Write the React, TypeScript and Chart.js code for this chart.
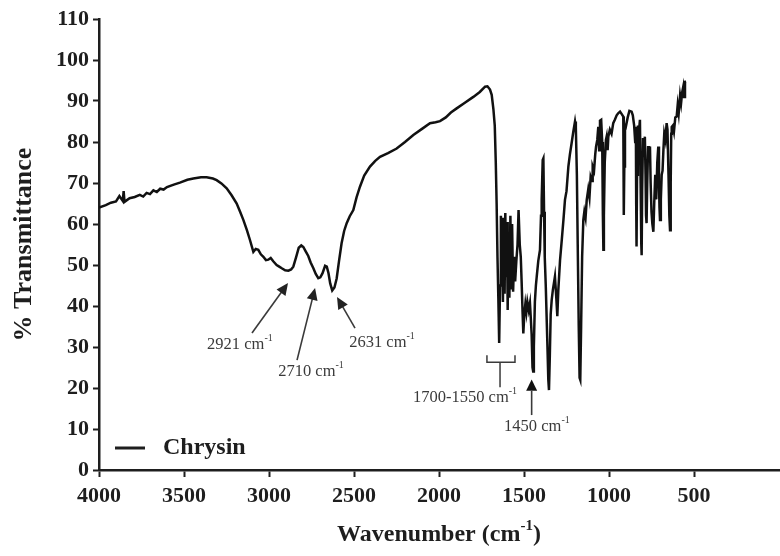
import React, { useEffect, useRef } from 'react';
import { Chart, registerables } from 'chart.js';

Chart.register(...registerables);

// ---- Data ----
const seriesLabel = 'Chrysin';

const wavenumbers = [
  4000, 3960, 3930, 3900, 3880, 3860, 3855, 3850, 3820, 3790, 3760, 3740, 3720, 3700, 3680, 3660, 3640, 3620, 3600,
  3560, 3524, 3480, 3445, 3400, 3367, 3330, 3308, 3280, 3249, 3220, 3190, 3170, 3151, 3130, 3112, 3092, 3078, 3063,
  3048, 3033, 3018, 3004, 2990, 2975, 2955, 2940, 2925, 2905, 2886, 2870, 2857, 2840, 2825, 2810, 2798, 2785, 2769,
  2755, 2739, 2725, 2710, 2698, 2685, 2670, 2660, 2650, 2640, 2628, 2615, 2602, 2588, 2573, 2558, 2543, 2525, 2504,
  2485, 2465, 2440, 2406, 2375, 2347, 2300, 2249, 2200, 2151, 2100, 2053, 2020, 1994, 1960, 1930, 1896, 1850, 1798,
  1760, 1729, 1715, 1700, 1690, 1680, 1672, 1666, 1661, 1656, 1651, 1646, 1641, 1636, 1632, 1628, 1624, 1619, 1614,
  1610, 1605, 1600, 1596, 1591, 1586, 1580, 1575, 1570, 1564, 1558, 1552, 1545, 1538, 1532, 1525, 1519, 1514, 1508,
  1504, 1498, 1492, 1486, 1480, 1472, 1465, 1460, 1455, 1450, 1446, 1442, 1436, 1430, 1425, 1416, 1406, 1400, 1396,
  1390, 1386, 1382, 1378, 1372, 1366, 1362, 1357, 1353, 1348, 1343, 1337, 1330, 1318, 1310, 1304, 1298, 1288, 1278,
  1268, 1259, 1250, 1239, 1230, 1220, 1210, 1200, 1195, 1189, 1184, 1178, 1173, 1169, 1164, 1158, 1151, 1145, 1138,
  1131, 1122, 1115, 1108, 1100, 1096, 1088, 1081, 1076, 1069, 1063, 1058, 1053, 1046, 1040, 1036, 1033, 1030, 1025,
  1018, 1014, 1008, 1004, 995, 985, 975, 965, 955, 946, 935, 925, 916, 914, 912, 910, 906, 901, 890, 880, 867, 860,
  852, 846, 842, 840, 838, 835, 830, 825, 818, 814, 810, 808, 805, 800, 795, 789, 785, 782, 779, 775, 770, 765, 759,
  755, 750, 745, 739, 734, 728, 722, 716, 710, 706, 703, 700, 695, 690, 685, 680, 675, 668, 661, 656, 650, 645, 641,
  637, 634, 631, 625, 618, 610, 602, 596, 590, 582, 576, 570, 563, 558, 553, 547,
];

const transmittance = [
  64.0, 64.6, 65.2, 65.5, 66.8, 65.6, 68.0, 65.4, 66.3, 66.6, 67.1, 66.7, 67.6, 67.3, 68.2, 67.8, 68.6, 68.4, 69.0,
  69.6, 70.1, 70.8, 71.1, 71.4, 71.4, 71.1, 70.7, 69.9, 68.7, 67.0, 65.0, 63.0, 61.0, 58.5, 56.1, 53.2, 53.9, 53.7,
  52.6, 52.0, 51.2, 51.3, 51.7, 50.9, 50.0, 49.6, 49.2, 48.7, 48.6, 48.9, 49.6, 52.0, 54.2, 54.8, 54.4, 53.4, 52.2,
  50.6, 49.2, 47.8, 46.8, 47.0, 48.0, 49.8, 49.6, 48.0, 45.5, 43.8, 44.5, 46.7, 51.0, 55.3, 58.3, 60.2, 61.9, 63.4,
  66.5, 69.1, 71.8, 74.0, 75.4, 76.4, 77.3, 78.4, 80.0, 81.7, 83.2, 84.6, 84.8, 85.1, 86.0, 87.2, 88.2, 89.5, 91.0,
  92.2, 93.5, 93.6, 92.8, 91.5, 88.0, 84.0, 75.0, 65.0, 52.0, 42.0, 31.0, 45.0, 62.0, 48.0, 61.5, 41.0, 60.0, 43.0,
  62.7, 47.0, 60.5, 39.0, 58.0, 42.0, 62.0, 44.0, 60.0, 43.5, 52.0, 46.0, 51.0, 55.0, 63.4, 55.0, 52.0, 46.0, 38.0,
  33.3, 38.0, 40.5, 38.5, 41.0, 39.0, 40.7, 37.0, 33.0, 25.0, 24.0, 30.0, 41.0, 45.0, 47.2, 51.0, 53.7, 62.0, 66.0,
  75.6, 76.0, 63.0, 52.0, 45.0, 36.0, 30.0, 22.0, 19.5, 28.0, 38.0, 41.5, 44.0, 47.2, 42.0, 37.5, 44.0, 51.2, 56.0,
  61.0, 65.9, 68.0, 74.0, 77.0, 79.7, 82.5, 85.0, 83.5, 72.0, 55.0, 35.0, 22.5, 22.0, 35.0, 52.0, 61.0, 63.0, 61.5,
  65.9, 68.5, 66.5, 71.5, 70.5, 74.0, 73.0, 77.0, 78.9, 80.5, 83.7, 78.0, 85.2, 85.4, 80.0, 62.0, 53.7, 62.0, 75.0,
  80.5, 81.3, 78.0, 81.3, 83.0, 82.0, 84.6, 85.5, 86.5, 87.0, 87.4, 86.8, 86.2, 75.0, 62.2, 74.0, 84.0, 83.7, 86.0, 87.6, 87.4, 86.5,
  84.0, 80.0, 83.7, 65.0, 54.5, 72.0, 84.0, 82.0, 85.4, 70.0, 55.0, 52.4, 68.0, 81.0, 78.0, 81.3, 72.0, 62.0, 60.2, 70.0, 79.0, 76.0, 78.9,
  70.0, 63.0, 60.0, 58.1, 65.0, 72.0, 66.0, 75.0, 78.9, 70.0, 64.0, 61.0, 66.0, 72.0, 73.0, 78.0, 82.0, 80.5, 84.6, 83.0, 72.0, 62.0, 58.5,
  70.0, 82.0, 83.7, 84.0, 82.5, 86.0, 86.2, 89.0, 87.0, 91.3, 89.5, 92.0, 93.5, 91.0, 94.7, 94.8,
];

const xTickValues = [4000, 3500, 3000, 2500, 2000, 1500, 1000, 500];
const yMin = 0;
const yMax = 110;
const xMin = 0;
const xMax = 4000;

// Peak annotations (values in data units)
const arrowLabels = ['2921', '2710', '2631'];
const arrowTipWn = [2888, 2729, 2600];
const arrowTipT = [45.6, 44.4, 42.2];
const arrowTailWn = [3100, 2835, 2494];
const arrowTailT = [33.4, 26.8, 34.6];
const arrowTextWn = [3171, 2753, 2335];
const arrowTextT = [30.5, 23.9, 31.0];

const bandLabel = '1700-1550';
const bandFromWn = 1718;
const bandToWn = 1553;
const bandT = 26.3;
const bandCapT = 28.0;
const bandStemWn = 1641;
const bandStemEndT = 20.2;
const bandTextWn = 1847;
const bandTextT = 17.6;

const peakLabel = '1450';
const peakTipWn = 1455;
const peakTipT = 22.1;
const peakBaseT = 19.3;
const peakStemEndT = 13.4;
const peakTextWn = 1424;
const peakTextT = 10.6;

const FONT = '"Liberation Serif", "Times New Roman", serif';
const INK = '#1e1e1e';
const NOTE = '#3a3a3a';

type Part = { t: string; sup?: boolean };

function drawParts(ctx: CanvasRenderingContext2D, parts: Part[], cx: number, cy: number, size: number, weight: string, color: string) {
  const supSize = Math.round(size * 0.62);
  const widths = parts.map((p) => {
    ctx.font = `${weight} ${p.sup ? supSize : size}px ${FONT}`;
    return ctx.measureText(p.t).width;
  });
  const total = widths.reduce((a, b) => a + b, 0);
  let x = cx - total / 2;
  ctx.fillStyle = color;
  ctx.textAlign = 'left';
  ctx.textBaseline = 'middle';
  parts.forEach((p, i) => {
    ctx.font = `${weight} ${p.sup ? supSize : size}px ${FONT}`;
    ctx.fillText(p.t, x, p.sup ? cy - size * 0.38 : cy);
    x += widths[i];
  });
}

function arrowHead(ctx: CanvasRenderingContext2D, tx: number, ty: number, fx: number, fy: number, len: number, half: number) {
  const ang = Math.atan2(ty - fy, tx - fx);
  const bx = tx - Math.cos(ang) * len;
  const by = ty - Math.sin(ang) * len;
  ctx.beginPath();
  ctx.moveTo(tx, ty);
  ctx.lineTo(bx + Math.sin(ang) * half, by - Math.cos(ang) * half);
  ctx.lineTo(bx - Math.sin(ang) * half, by + Math.cos(ang) * half);
  ctx.closePath();
  ctx.fill();
}

const overlayPlugin = {
  id: 'overlay',
  afterDraw(chart: any) {
    const { ctx, chartArea } = chart;
    const xs = chart.scales.x;
    const ys = chart.scales.y;
    const px = (v: number) => xs.getPixelForValue(v);
    const py = (v: number) => ys.getPixelForValue(v);
    ctx.save();

    // arrows to peaks
    ctx.strokeStyle = NOTE;
    ctx.fillStyle = NOTE;
    ctx.lineWidth = 1.6;
    arrowLabels.forEach((lab, i) => {
      const tx = px(arrowTipWn[i]);
      const ty = py(arrowTipT[i]);
      const fx = px(arrowTailWn[i]);
      const fy = py(arrowTailT[i]);
      const ang = Math.atan2(ty - fy, tx - fx);
      ctx.beginPath();
      ctx.moveTo(fx, fy);
      ctx.lineTo(tx - Math.cos(ang) * 8, ty - Math.sin(ang) * 8);
      ctx.stroke();
      ctx.fillStyle = '#222';
      arrowHead(ctx, tx, ty, fx, fy, 12, 5.5);
      drawParts(ctx, [{ t: lab + ' cm' }, { t: '-1', sup: true }], px(arrowTextWn[i]), py(arrowTextT[i]), 16.5, 'normal', NOTE);
    });

    // band bracket
    ctx.strokeStyle = NOTE;
    ctx.lineWidth = 1.5;
    ctx.beginPath();
    ctx.moveTo(px(bandFromWn), py(bandCapT));
    ctx.lineTo(px(bandFromWn), py(bandT));
    ctx.lineTo(px(bandToWn), py(bandT));
    ctx.lineTo(px(bandToWn), py(bandCapT));
    ctx.moveTo(px(bandStemWn), py(bandT));
    ctx.lineTo(px(bandStemWn), py(bandStemEndT));
    ctx.stroke();
    drawParts(ctx, [{ t: bandLabel + ' cm' }, { t: '-1', sup: true }], px(bandTextWn), py(bandTextT), 16.5, 'normal', NOTE);

    // 1450 arrow
    ctx.fillStyle = '#111';
    const tipX = px(peakTipWn);
    ctx.beginPath();
    ctx.moveTo(tipX, py(peakTipT));
    ctx.lineTo(tipX - 5.5, py(peakBaseT));
    ctx.lineTo(tipX + 5.5, py(peakBaseT));
    ctx.closePath();
    ctx.fill();
    ctx.strokeStyle = NOTE;
    ctx.lineWidth = 1.6;
    ctx.beginPath();
    ctx.moveTo(tipX, py(peakBaseT));
    ctx.lineTo(tipX, py(peakStemEndT));
    ctx.stroke();
    drawParts(ctx, [{ t: peakLabel + ' cm' }, { t: '-1', sup: true }], px(peakTextWn), py(peakTextT), 16.5, 'normal', NOTE);

    // legend
    const ly = chartArea.bottom - 22;
    ctx.strokeStyle = INK;
    ctx.lineWidth = 3;
    ctx.beginPath();
    ctx.moveTo(chartArea.left + 16, ly);
    ctx.lineTo(chartArea.left + 46, ly);
    ctx.stroke();
    ctx.fillStyle = INK;
    ctx.font = `bold 24px ${FONT}`;
    ctx.textAlign = 'left';
    ctx.textBaseline = 'middle';
    ctx.fillText(chart.data.datasets[0].label, chartArea.left + 64, ly);

    // x-axis title with superscript
    drawParts(
      ctx,
      [{ t: 'Wavenumber (cm' }, { t: '-1', sup: true }, { t: ')' }],
      (chartArea.left + chartArea.right) / 2,
      535,
      24,
      'bold',
      INK
    );
    ctx.restore();
  },
};

export default function App() {
  const ref = useRef<HTMLCanvasElement | null>(null);

  useEffect(() => {
    if (!ref.current) return;
    const points = wavenumbers.map((w, i) => ({ x: w, y: transmittance[i] }));
    const chart = new Chart(ref.current, {
      type: 'line',
      data: {
        datasets: [
          {
            label: seriesLabel,
            data: points,
            borderColor: '#111',
            borderWidth: 2.5,
            pointRadius: 0,
            tension: 0,
            fill: false,
          },
        ],
      },
      options: {
        animation: false,
        responsive: false,
        devicePixelRatio: 1,
        layout: { padding: { top: 19, right: 1, left: 0, bottom: 0 } },
        plugins: {
          legend: { display: false },
          tooltip: { enabled: false },
        },
        scales: {
          x: {
            type: 'linear',
            reverse: true,
            min: xMin,
            max: xMax,
            afterBuildTicks: (s: any) => {
              s.ticks = xTickValues.map((v) => ({ value: v }));
            },
            afterFit: (s: any) => {
              s.height = 86;
            },
            border: { display: true, color: INK, width: 2.5 },
            grid: { drawOnChartArea: false, drawTicks: true, tickLength: 7, tickWidth: 2, tickColor: INK },
            ticks: {
              color: INK,
              font: { family: FONT, size: 22, weight: 'bold' },
              padding: 6,
              maxRotation: 0,
              autoSkip: false,
              callback: (v: any) => String(v),
            },
            title: { display: false },
          },
          y: {
            min: yMin,
            max: yMax,
            afterFit: (s: any) => {
              s.width = 99;
            },
            border: { display: true, color: INK, width: 2.5 },
            grid: { drawOnChartArea: false, drawTicks: true, tickLength: 6, tickWidth: 2, tickColor: INK },
            ticks: {
              stepSize: 10,
              color: INK,
              font: { family: FONT, size: 22, weight: 'bold' },
              padding: 4,
            },
            title: {
              display: true,
              text: '% Transmittance',
              color: INK,
              font: { family: FONT, size: 26, weight: 'bold' },
              padding: { top: 9, bottom: 0 },
            },
          },
        },
      },
      plugins: [overlayPlugin],
    });
    return () => chart.destroy();
  }, []);

  return (
    <div style={{ position: 'absolute', left: 0, top: 0, width: 780, height: 556, background: '#fff' }}>
      <canvas ref={ref} width={780} height={556} />
    </div>
  );
}
